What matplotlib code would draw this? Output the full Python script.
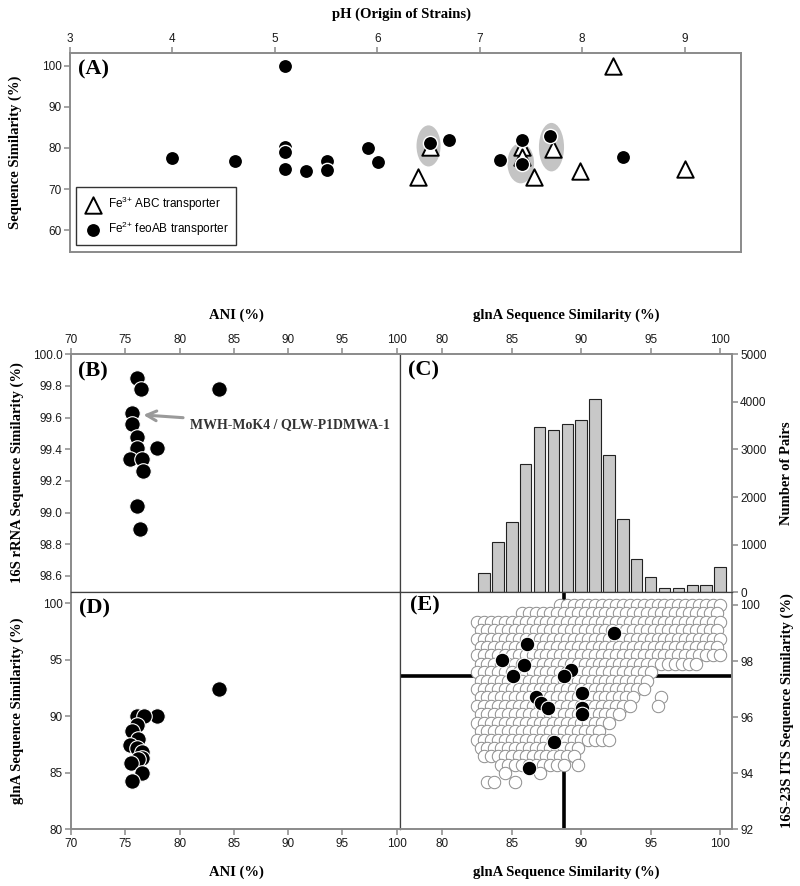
import numpy as np
import matplotlib.pyplot as plt
from matplotlib.patches import Ellipse

plt.rcParams['font.family'] = ['Liberation Sans', 'DejaVu Sans']
plt.rcParams['mathtext.default'] = 'regular'
plt.rcParams['font.size'] = 8.5

SERIF = 'Liberation Serif'
W, H = 800, 886

# ---- (A) pH of origin vs sequence similarity
ph_fe3 = [6.40, 6.51, 7.41, 7.41, 7.53, 7.71, 7.98, 8.30, 9.00]
sim_fe3 = [73.0, 80.3, 80.3, 77.9, 73.0, 79.7, 74.4, 100.0, 75.0]
ph_fe2 = [4.00, 4.61, 5.10, 5.10, 5.10, 5.10, 5.30, 5.51, 5.51, 5.91,
          6.01, 6.51, 6.70, 7.20, 7.41, 7.41, 7.69, 8.40]
sim_fe2 = [77.6, 76.8, 100.0, 80.3, 78.9, 75.0, 74.5, 76.8, 74.6, 79.9,
           76.6, 81.1, 82.0, 77.1, 82.0, 76.0, 82.8, 77.9]
# shaded groups
grp_ph = [6.50, 7.40, 7.70]
grp_sim = [80.5, 76.3, 80.2]
grp_w = [0.235, 0.26, 0.245]
grp_h = [10.0, 9.8, 11.8]

# ---- (B) ANI vs 16S rRNA
ani_b = [76.06, 76.43, 83.6, 75.6, 75.6, 76.12, 76.12, 77.9, 75.45, 76.5,
         76.6, 76.06, 76.37]
rrna_b = [99.853, 99.779, 99.78, 99.63, 99.56, 99.48, 99.41, 99.41, 99.34,
          99.34, 99.26, 99.04, 98.895]

# ---- (C) histogram of glnA similarity
hist_bins = [83, 84, 85, 86, 87, 88, 89, 90, 91, 92, 93, 94, 95, 96, 97, 98, 99, 100]
hist_counts = [400, 1050, 1480, 2690, 3470, 3420, 3540, 3630, 4060, 2880,
               1530, 710, 320, 80, 80, 150, 160, 530]

# ---- (D) ANI vs glnA
ani_d = [83.6, 77.9, 76.06, 76.68, 76.06, 75.6, 76.2, 75.45, 76.06, 76.5,
         76.5, 76.2, 75.5, 76.5, 75.6]
glna_d = [92.39, 90.03, 90.03, 90.0, 89.2, 88.7, 87.96, 87.5, 87.2, 86.8,
          86.3, 86.2, 85.9, 85.0, 84.25]

# ---- (E) glnA vs 16S-23S ITS
glna_e = [92.38, 86.08, 84.28, 85.89, 85.12, 89.25, 88.73, 90.05, 86.71,
          87.09, 87.6, 90.05, 90.05, 88.05, 86.23]
its_e = [99.01, 98.61, 98.04, 97.85, 97.46, 97.67, 97.46, 96.87, 96.70,
         96.51, 96.31, 96.31, 96.10, 95.12, 94.17]
glna_cut = 88.77
its_cut = 97.47

# all pairs, read as an occupancy map (rows = ITS; even rows use the
# first glnA column set, odd rows the second one)
pair_glna_a = [82.0, 82.5, 83.0, 83.5, 84.0, 84.5, 85.0, 85.5, 86.0, 86.5,
               87.0, 87.5, 88.0, 88.5, 89.0, 89.5, 90.0, 90.5, 91.0, 91.5,
               92.0, 92.5, 93.0, 93.5, 94.0, 94.5, 95.0, 95.5, 96.0, 96.5,
               97.0, 97.5, 98.0, 98.5, 99.0, 99.5, 100.0]
pair_glna_b = [82.25, 82.75, 83.25, 83.75, 84.25, 84.75, 85.25, 85.75, 86.25, 86.75,
               87.25, 87.75, 88.25, 88.75, 89.25, 89.75, 90.25, 90.75, 91.25, 91.75,
               92.25, 92.75, 93.25, 93.75, 94.25, 94.75, 95.25, 95.75, 96.25, 96.75,
               97.25, 97.75, 98.25, 98.75, 99.25, 99.75, 100.25]
pair_its = [100.0, 99.7, 99.4, 99.1, 98.8, 98.5, 98.2, 97.9, 97.6, 97.3, 97.0,
            96.7, 96.4, 96.1, 95.8, 95.5, 95.2, 94.9, 94.6, 94.3, 94.0, 93.7]
pair_map = [
    ".......... ...ooooooo oooooooooo ooooooo",
    ".......ooo oooooooooo oooooooooo oooooo.",
    ".ooooooooo oooooooooo oooooooooo ooooooo",
    ".ooooooooo oooooooooo oooooooooo oooooo.",
    ".ooooooooo oooooooooo oooooooooo ooooooo",
    ".ooooooooo oooooooooo oooooooooo oooooo.",
    ".ooooooooo oooooooooo oooooooooo ooooooo",
    ".ooooooooo oooooooooo oooooooooo ooo....",
    ".ooooooooo oooooooooo ooooooo... .......",
    ".ooooooooo oooooooooo oooooo.... .......",
    ".ooooooooo oooooooooo oooooo.... .......",
    ".ooooooooo oooooooooo oooo...o.. .......",
    ".ooooooooo oooooooooo oooo...o.. .......",
    ".ooooooooo oooooooooo oo........ .......",
    ".ooooooooo oooooooooo o......... .......",
    ".ooooooooo ooooooooo. .......... .......",
    ".ooooooooo oooooooooo o......... .......",
    ".ooooooooo oooooo.... .......... .......",
    "..oooooooo oooooo.... .......... .......",
    "....oooooo oooo.o.... .......... .......",
    ".....o.... o......... .......... .......",
    "..oo..o... .......... .......... .......",
]

SPINE = '#8a8a8a'
DIV = '#404040'


def box(l, t, r, b):
    return [l / W, 1 - b / H, (r - l) / W, (b - t) / H]


def style(ax, ticked):
    for name, sp in ax.spines.items():
        if name in ticked:
            sp.set_color(SPINE)
            sp.set_linewidth(1.4)
        else:
            sp.set_color(DIV)
            sp.set_linewidth(0.9)
    ax.tick_params(direction='out', length=4, width=1.1, color=SPINE,
                   labelcolor='#1a1a1a', labelsize=8.5, pad=2)


def label(x, y, s, rot=0):
    fig.text(x / W, 1 - y / H, s, ha='center', va='center', rotation=rot,
             fontfamily=SERIF, fontweight='bold', fontsize=10.5)


def tag(ax, x, y, s):
    ax.text(x, y, s, transform=ax.transAxes, ha='left', va='center',
            fontfamily=SERIF, fontweight='bold', fontsize=16, zorder=10)


fig = plt.figure(figsize=(8, 8.86), dpi=100)

# (A)
axA = fig.add_axes(box(70, 53, 741, 252))
for cx, cy, w, h in zip(grp_ph, grp_sim, grp_w, grp_h):
    axA.add_patch(Ellipse((cx, cy), w, h, facecolor='#c4c4c4', edgecolor='none', zorder=1))
axA.scatter(ph_fe3, sim_fe3, marker='^', s=140, facecolor='white', edgecolor='black',
            linewidths=1.4, zorder=2, label='Fe$^{3{+}}$ ABC transporter')
axA.scatter(ph_fe2, sim_fe2, marker='o', s=105, facecolor='black', edgecolor='white',
            linewidths=1.0, zorder=3, label='Fe$^{2{+}}$ feoAB transporter')
axA.set_xlim(3, 9.55)
axA.set_ylim(54.7, 103.1)
axA.set_xticks(range(3, 10))
axA.set_yticks(range(60, 101, 10))
axA.xaxis.tick_top()
style(axA, ['top', 'left', 'bottom', 'right'])
axA.tick_params(top=True, bottom=False, left=True, right=False)
tag(axA, 0.012, 0.915, '(A)')
leg = axA.legend(loc='lower left', bbox_to_anchor=(0.009, 0.035), borderaxespad=0,
                 fancybox=False, framealpha=1, edgecolor='#333333', fontsize=8.5,
                 handletextpad=0.5, borderpad=0.6, labelspacing=0.6, handlelength=1.6)
leg.get_frame().set_linewidth(1.0)
label(402, 14, 'pH (Origin of Strains)')
label(15, 152, 'Sequence Similarity (%)', 90)

# (B)
axB = fig.add_axes(box(71, 354.3, 400, 592.3))
axB.scatter(ani_b, rrna_b, s=125, facecolor='black', edgecolor='white', linewidths=0.8, zorder=3)
axB.set_xlim(70, 100.3)
axB.set_ylim(98.497, 100.0)
axB.set_xticks(range(70, 101, 5))
axB.set_yticks(np.arange(98.6, 100.01, 0.2))
axB.yaxis.set_major_formatter('{x:.1f}')
axB.xaxis.tick_top()
style(axB, ['top', 'left'])
tag(axB, 0.021, 0.927, '(B)')
axB.annotate('MWH-MoK4 / QLW-P1DMWA-1', xy=(76.66, 99.617), xytext=(80.96, 99.553),
             va='center', ha='left', fontfamily=SERIF, fontweight='bold', fontsize=10,
             color='#333333',
             arrowprops=dict(arrowstyle='->,head_length=0.7,head_width=0.35',
                             color='#9a9a9a', lw=2.2, shrinkA=3, shrinkB=0))
label(236, 315, 'ANI (%)')
label(17, 473, '16S rRNA Sequence Similarity (%)', 90)

# (C)
axC = fig.add_axes(box(400, 354.3, 731.7, 592.3))
axC.bar(hist_bins, hist_counts, width=0.83, color='#c8c8c8', edgecolor='#222222',
        linewidth=0.8, zorder=2)
axC.set_xlim(76.95, 100.84)
axC.set_ylim(0, 5000)
axC.set_xticks(range(80, 101, 5))
axC.set_yticks(range(0, 5001, 1000))
axC.xaxis.tick_top()
axC.yaxis.tick_right()
style(axC, ['top', 'right'])
tag(axC, 0.024, 0.934, '(C)')
label(566, 315, 'glnA Sequence Similarity (%)')
label(787, 473, 'Number of Pairs', 90)

# (D)
axD = fig.add_axes(box(71, 592.3, 400, 829.3))
axD.scatter(ani_d, glna_d, s=125, facecolor='black', edgecolor='white', linewidths=0.8, zorder=3)
axD.set_xlim(70, 100.3)
axD.set_ylim(80, 100.97)
axD.set_xticks(range(70, 101, 5))
axD.set_yticks(range(80, 101, 5))
style(axD, ['bottom', 'left'])
tag(axD, 0.024, 0.932, '(D)')
label(236, 872, 'ANI (%)')
label(17, 711, 'glnA Sequence Similarity (%)', 90)

# (E)
axE = fig.add_axes(box(400, 592.3, 731.7, 829.3))
px, py = [], []
for k, (its, row) in enumerate(zip(pair_its, pair_map)):
    cols = pair_glna_a if k % 2 == 0 else pair_glna_b
    for g, c in zip(cols, row.replace(' ', '')):
        if c == 'o':
            px.append(g)
            py.append(its)
axE.axvline(glna_cut, color='black', lw=2.6, zorder=1)
axE.axhline(its_cut, color='black', lw=2.6, zorder=1)
axE.scatter(px, py, s=80, facecolor='white', edgecolor='#8c8c8c', linewidths=0.7, zorder=2)
axE.scatter(glna_e, its_e, s=110, facecolor='black', edgecolor='white', linewidths=0.8, zorder=3)
axE.set_xlim(76.95, 100.84)
axE.set_ylim(92, 100.45)
axE.set_xticks(range(80, 101, 5))
axE.set_yticks(range(92, 101, 2))
axE.yaxis.tick_right()
style(axE, ['bottom', 'right'])
tag(axE, 0.03, 0.946, '(E)')
label(566, 872, 'glnA Sequence Similarity (%)')
label(787, 711, '16S-23S ITS Sequence Similarity (%)', 90)

fig.savefig('out.png', dpi=100)
